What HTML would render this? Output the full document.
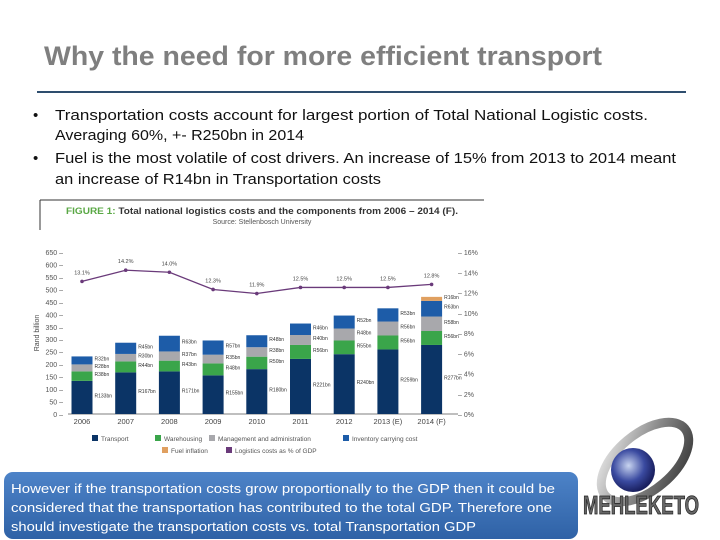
<!DOCTYPE html>
<html><head><meta charset="utf-8"><style>
html,body{margin:0;padding:0;background:#fff}
svg{display:block}
text{font-family:"Liberation Sans",sans-serif}
</style></head><body>
<svg id="slide" width="720" height="540" viewBox="0 0 720 540">
<defs>
<linearGradient id="bg" x1="0" y1="0" x2="0" y2="1"><stop offset="0" stop-color="#4d83c8"/><stop offset="1" stop-color="#2f62a6"/></linearGradient>
<radialGradient id="gl" cx="0.4" cy="0.4" r="0.6"><stop offset="0" stop-color="#c8d4f0"/><stop offset="0.6" stop-color="#3a4aa0"/><stop offset="1" stop-color="#1a2060"/></radialGradient>
<linearGradient id="ring" x1="0" y1="0" x2="1" y2="1"><stop offset="0" stop-color="#eee"/><stop offset="0.5" stop-color="#888"/><stop offset="1" stop-color="#333"/></linearGradient>
</defs>
<text x="44" y="65" font-size="27" font-weight="bold" fill="#7f7f7f" textLength="558" lengthAdjust="spacingAndGlyphs">Why the need for more efficient transport</text>
<line x1="37" y1="92" x2="686" y2="92" stroke="#2e4e6e" stroke-width="2"/>
<g font-size="15" fill="#111">
<text x="33" y="120">•</text>
<text x="55" y="120" textLength="593" lengthAdjust="spacingAndGlyphs">Transportation costs account for largest portion of Total National Logistic costs.</text>
<text x="55" y="140" textLength="249" lengthAdjust="spacingAndGlyphs">Averaging 60%, +- R250bn in 2014</text>
<text x="33" y="163">•</text>
<text x="55" y="163" textLength="621" lengthAdjust="spacingAndGlyphs">Fuel is the most volatile of cost drivers. An increase of 15% from 2013  to 2014 meant</text>
<text x="55" y="184" textLength="326" lengthAdjust="spacingAndGlyphs">an increase of R14bn in Transportation costs</text>
</g>
<g>
<line x1="40" y1="200" x2="484" y2="200" stroke="#333" stroke-width="1"/>
<line x1="40" y1="200" x2="40" y2="230" stroke="#333" stroke-width="1"/>
<text x="262" y="214" font-size="9.5" font-weight="bold" text-anchor="middle" fill="#333" textLength="392" lengthAdjust="spacingAndGlyphs"><tspan fill="#5aa845">FIGURE 1:</tspan> Total national logistics costs and the components from 2006 – 2014 (F).</text>
<text x="262" y="224" font-size="7" text-anchor="middle" fill="#555">Source: Stellenbosch University</text>
</g>
<g id="chart"></g>
<rect x="4" y="472" width="574" height="67" rx="9" fill="url(#bg)"/>
<g font-size="13" fill="#fff">
<text x="11" y="493" textLength="544" lengthAdjust="spacingAndGlyphs">However if the transportation costs grow proportionally to the GDP then it could be</text>
<text x="11" y="512" textLength="541" lengthAdjust="spacingAndGlyphs">considered that the transportation has contributed to the total GDP. Therefore one</text>
<text x="11" y="531" textLength="465" lengthAdjust="spacingAndGlyphs">should investigate the transportation costs vs. total Transportation GDP</text>
</g>
<g>
<ellipse cx="645" cy="462" rx="52" ry="28" fill="none" stroke="url(#ring)" stroke-width="9" transform="rotate(-40 645 462)"/>
<circle cx="633" cy="470" r="22" fill="url(#gl)"/>
<text x="641" y="514" font-size="26" font-weight="bold" text-anchor="middle" fill="#666" stroke="#222" stroke-width="0.8" textLength="116" lengthAdjust="spacingAndGlyphs">MEHLEKETO</text>
</g>
</svg>
<script>
const years=["2006","2007","2008","2009","2010","2011","2012","2013 (E)","2014 (F)"];
const transport=[133,167,171,155,180,221,240,259,277];
const warehousing=[38,44,43,48,50,56,55,56,56];
const management=[28,30,37,35,38,40,48,56,58];
const inventory=[32,45,63,57,48,46,52,53,63];
const fuel=[0,0,0,0,0,0,0,0,16];
const gdpPct=[13.1,14.2,14.0,12.3,11.9,12.5,12.5,12.5,12.8];
const pctLabels=["13.1%","14.2%","14.0%","12.3%","11.9%","12.5%","12.5%","12.5%","12.8%"];
const leftTicks=[0,50,100,150,200,250,300,350,400,450,500,550,600,650];
const rightTicks=[0,2,4,6,8,10,12,14,16];

const NS="http://www.w3.org/2000/svg";
const g=document.getElementById('chart');
const y0=414,y1=252,xL=68,x0=82,step=43.7,bw=21;
const yv=v=>y0-(v/650)*(y0-y1);
const yp=p=>y0-(p/16)*(y0-y1);
const xc=i=>x0+i*step;
function mk(tag,attrs,parent){const e=document.createElementNS(NS,tag);for(const k in attrs)e.setAttribute(k,attrs[k]);(parent||g).appendChild(e);return e;}

const ax=mk('line',{x1:xL,y1:y0,x2:458,y2:y0,stroke:'#555','stroke-width':0.8});


leftTicks.forEach(v=>{
  const t=mk('text',{x:63,y:yv(v)+3,'font-size':7,'text-anchor':'end',fill:'#555'});
  t.textContent=v+' –';
  
  
});
rightTicks.forEach(p=>{
  const t=mk('text',{x:458,y:yp(p)+3,'font-size':7,fill:'#555'});
  t.textContent='– '+p+'%';
  
  
});
const yt=mk('text',{x:0,y:0,'font-size':7,fill:'#444','text-anchor':'middle',transform:'translate(39,333) rotate(-90)'});
yt.textContent='Rand billion';



const series=[[transport,'#0b3466','transport'],[warehousing,'#3aa54a','warehousing'],[management,'#a8a8ac','management'],[inventory,'#1d5ca8','inventory'],[fuel,'#e0a060','fuel-inflation']];
years.forEach((yr,i)=>{
  let base=0;
  series.forEach(([arr,col,nm])=>{
    const v=arr[i]; if(!v){return;}
    const r=mk('rect',{x:xc(i)-bw/2,y:yv(base+v),width:bw,height:yv(base)-yv(base+v),fill:col});
    
    
    const lt=mk('text',{x:xc(i)+bw/2+2,y:yv(base+v/2),'font-size':5,fill:'#333'});
    lt.textContent='R'+v+'bn';
    
    
    base+=v;
  });
  const xl=mk('text',{x:xc(i),y:424,'font-size':7.5,'text-anchor':'middle',fill:'#444'});
  xl.textContent=yr;
  
  
});
const pts=gdpPct.map((p,i)=>xc(i)+','+yp(p)).join(' ');
const pl=mk('polyline',{points:pts,fill:'none',stroke:'#6a3a7a','stroke-width':1.3});


gdpPct.forEach((p,i)=>{
  const c=mk('circle',{cx:xc(i),cy:yp(p),r:1.8,fill:'#6a3a7a'});
  
  
  const t=mk('text',{x:xc(i),y:yp(p)-7,'font-size':5.5,'text-anchor':'middle',fill:'#444'});
  t.textContent=pctLabels[i];
  
  
});
const legend=[['Transport','#0b3466',92,441],['Warehousing','#3aa54a',155,441],['Management and administration','#a8a8ac',209,441],['Inventory carrying cost','#1d5ca8',343,441],['Fuel inflation','#e0a060',162,453],['Logistics costs as % of GDP','#6a3a7a',226,453]];
legend.forEach(([lab,col,x,y])=>{
  const r=mk('rect',{x:x,y:y-6,width:6,height:6,fill:col});
  
  
  const t=mk('text',{x:x+9,y:y,'font-size':6.5,fill:'#555'});
  t.textContent=lab;
  
  
});
</script>
</body></html>
